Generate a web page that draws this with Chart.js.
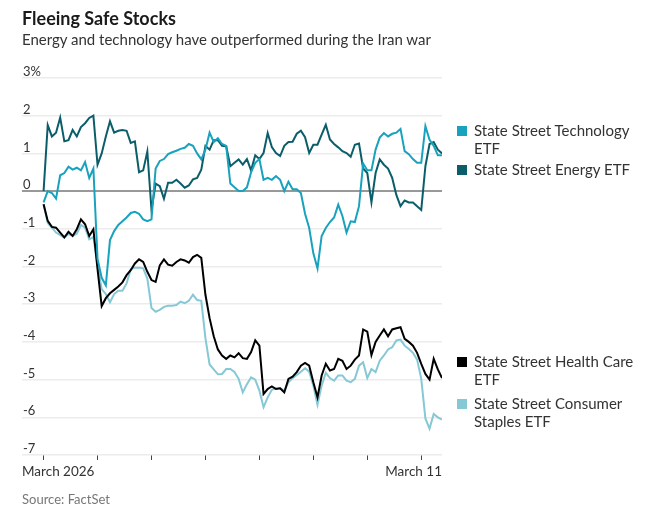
<!DOCTYPE html>
<html>
<head>
<meta charset="utf-8">
<script src="https://cdn.jsdelivr.net/npm/chart.js@4.4.1/dist/chart.umd.min.js"></script>
<style>
  body { margin: 0; background: #fff; }
  #wrap { position: relative; width: 648px; height: 521px; font-family: Lato, sans-serif; color: #222; }
  #chart { position: absolute; left: 0; top: 0; }
  .txt { position: absolute; white-space: nowrap; }
  .title { left: 22px; top: 7px; font-size: 18px; font-weight: 700; color: #1a1a1a; }
  .sub { left: 22px; top: 30px; font-size: 15px; color: #333; }
  .source { left: 22px; top: 491px; font-size: 13px; color: #777; }
  .leg { position: absolute; left: 457px; width: 190px; font-size: 15px; line-height: 17.5px; color: #333; }
  .leg i { position: absolute; left: 0; top: 4px; width: 10px; height: 10px; }
  .leg span { display: block; margin-left: 17px; width: 172px; white-space: normal; }
</style>
</head>
<body>
<div id="wrap">
  <canvas id="chart" width="648" height="521"></canvas>
  <div class="txt title">Fleeing Safe Stocks</div>
  <div class="txt sub">Energy and technology have outperformed during the Iran war</div>
  <div class="txt source">Source: FactSet</div>
</div>
<script>
// half-hour bars, 13 per trading day, starting at the March 2 open
const barsPerDay = 13;
const dayTicks = [0, 1, 2, 3, 4, 5, 6, 7];
const dayTickLabels = ['March 2026', '', '', '', '', '', '', 'March 11'];

const seriesNames = [
    'State Street Technology ETF',
    'State Street Energy ETF',
    'State Street Health Care ETF',
    'State Street Consumer Staples ETF'
];
const seriesColors = ['#18a2bd', '#0b5e69', '#000000', '#86c8d6'];

// % change since the start of March
const techETF = [
    -0.3, 0.0, -0.05, -0.2, 0.42, 0.48, 0.65, 0.57, 0.62, 0.55, 0.77, 0.35, 0.6,
    -1.8, -2.3, -2.5, -1.3, -1.06, -0.9, -0.8, -0.7, -0.58, -0.55, -0.6, -0.75, -0.8,
    -0.75, 0.6, 0.8, 0.85, 0.98, 1.03, 1.07, 1.12, 1.15, 1.25, 1.2, 1.0, 0.84,
    1.1, 1.55, 1.3, 1.4, 1.25, 1.2, 0.2, 0.1, 0.0, 0.0, 0.1, 0.5, 0.75,
    0.85, 0.3, 0.35, 0.3, 0.4, 0.3, 0.0, 0.25, 0.05, 0.05, -0.05, -0.6, -0.98,
    -1.65, -2.05, -1.19, -0.98, -0.82, -0.7, -0.36, -0.66, -1.1, -0.8, -0.82, -0.4, 0.73,
    0.55, 0.55, 1.1, 1.42, 1.54, 1.45, 1.52, 1.55, 1.65, 1.06, 0.98, 0.85, 0.75,
    0.75, 1.72, 1.36, 1.2, 0.95, 0.95
];
const energyETF = [
    0.0, 1.75, 1.45, 1.55, 1.95, 1.32, 1.35, 1.62, 1.45, 1.7, 1.8, 1.94, 2.0,
    0.7, 1.0, 1.45, 1.85, 1.55, 1.6, 1.62, 1.6, 1.28, 1.32, 0.5, 0.55, 1.05,
    -0.5, 0.2, 0.13, -0.2, 0.22, 0.22, 0.3, 0.2, 0.09, 0.15, 0.31, 0.35, 0.57,
    1.2, 1.1, 1.35, 1.35, 1.2, 1.19, 0.66, 0.75, 0.84, 0.7, 0.85, 0.55, 0.95,
    0.85, 1.01, 1.54, 1.17, 1.01, 0.93, 1.2, 1.3, 1.31, 1.52, 1.6, 1.43, 1.01,
    1.23, 1.23, 1.5, 1.76, 1.37, 1.25, 1.16, 1.06, 1.01, 0.91, 1.23, 1.26, 0.6,
    0.48, -0.3, 0.48, 0.84, 0.7, 0.6, 0.35, -0.1, -0.4, -0.25, -0.3, -0.3, -0.4,
    -0.5, 0.66, 1.25, 1.3, 1.1, 1.0
];
const healthCareETF = [
    -0.35, -0.79, -0.95, -0.97, -1.1, -1.23, -1.08, -1.19, -1.01, -0.75, -0.88, -1.19, -1.01,
    -2.07, -3.05, -2.84, -2.71, -2.62, -2.53, -2.42, -2.23, -2.1, -1.92, -1.81, -1.88, -2.14,
    -2.36, -2.41, -1.97, -1.81, -1.95, -1.98, -1.88, -1.81, -1.84, -1.9, -1.75, -1.69, -1.77,
    -2.75, -3.37, -3.85, -4.2, -4.36, -4.45, -4.36, -4.41, -4.3, -4.43, -4.45, -4.27, -3.96,
    -4.1, -5.38, -5.25, -5.18, -5.25, -5.23, -5.34, -4.98, -4.92, -4.8, -4.63, -4.56, -4.63,
    -5.07, -5.47, -4.89, -4.58, -4.76, -4.72, -4.45, -4.5, -4.72, -4.63, -4.47, -4.36, -3.67,
    -3.73, -4.35, -4.0, -3.83, -3.67, -3.85, -3.67, -3.64, -3.61, -3.92, -4.0, -4.1, -4.29,
    -4.58, -4.85, -5.0, -4.45, -4.73, -4.96
];
const staplesETF = [
    -0.35, -0.85, -0.97, -1.1, -1.17, -1.23, -1.14, -1.19, -1.13, -0.9, -0.97, -1.28, -1.22,
    -1.95, -2.6, -2.73, -2.95, -2.73, -2.64, -2.64, -2.45, -2.07, -2.03, -2.03, -2.05, -2.32,
    -3.1, -3.2, -3.15, -3.07, -3.04, -3.04, -3.02, -2.93, -2.97, -2.91, -2.75, -2.89, -2.91,
    -3.9, -4.6, -4.73, -4.86, -4.85, -4.72, -4.72, -4.8, -4.98, -5.34, -5.12, -4.94, -5.0,
    -5.29, -5.73, -5.47, -5.27, -5.23, -5.23, -5.29, -5.07, -4.96, -4.88, -4.79, -4.7, -4.79,
    -5.16, -5.67, -5.16, -4.82, -4.96, -5.03, -4.89, -4.89, -5.03, -5.07, -4.98, -4.63, -4.54,
    -4.96, -4.72, -4.8, -4.5, -4.36, -4.2, -4.14, -3.96, -3.94, -4.1, -4.19, -4.29, -4.47,
    -4.98, -6.03, -6.3, -5.91, -6.0, -6.06
];

const seriesValues = [techETF, energyETF, healthCareETF, staplesETF];
// legend rows sit next to where each line ends (top offset in px)
const legendTops = [122, 161, 353, 395];

const toPoints = (arr) => arr.map((v, i) => ({ x: i / barsPerDay, y: v }));

const wrap = document.getElementById('wrap');
seriesNames.forEach((name, k) => {
    const el = document.createElement('div');
    el.className = 'leg';
    el.style.top = legendTops[k] + 'px';
    el.innerHTML = `<i style="background:${seriesColors[k]}"></i><span>${name}</span>`;
    wrap.appendChild(el);
});

const xLabelPlugin = {
    id: 'xLabels',
    afterDraw(chart) {
        const { ctx, chartArea } = chart;
        ctx.save();
        ctx.font = '13.5px Lato';
        ctx.fillStyle = '#333';
        ctx.textBaseline = 'alphabetic';
        dayTickLabels.forEach((lab, i) => {
            if (!lab) return;
            const px = chart.scales.x.getPixelForValue(dayTicks[i]);
            const w = ctx.measureText(lab).width;
            let tx = px - w / 2;
            if (tx < chartArea.left) tx = chartArea.left;
            if (tx + w > chartArea.right) tx = chartArea.right - w;
            ctx.textAlign = 'left';
            ctx.fillText(lab, tx, 476);
        });
        ctx.restore();
    }
};

new Chart(document.getElementById('chart'), {
    type: 'line',
    data: {
        datasets: seriesNames.map((name, k) => ({
            label: name,
            data: toPoints(seriesValues[k]),
            borderColor: seriesColors[k],
            borderWidth: 2,
            pointRadius: 0,
            tension: 0,
            fill: false
        }))
    },
    options: {
        responsive: false,
        animation: false,
        layout: { padding: { left: 22, right: 206, top: 78, bottom: 58 } },
        plugins: {
            legend: { display: false },
            tooltip: { enabled: false }
        },
        scales: {
            x: {
                type: 'linear',
                min: -0.4,
                max: (techETF.length - 1) / barsPerDay,
                afterBuildTicks: (s) => { s.ticks = dayTicks.map(v => ({ value: v })); },
                afterFit: (s) => { s.height = 8; },
                ticks: { display: false },
                grid: { drawOnChartArea: false, drawTicks: true, tickLength: 5, tickColor: '#444', lineWidth: 1 },
                border: { display: false }
            },
            y: {
                min: -7,
                max: 3,
                afterFit: (s) => { s.width = 0; },
                ticks: {
                    stepSize: 1,
                    mirror: true,
                    padding: 1,
                    labelOffset: -6,
                    color: '#333',
                    font: { family: 'Lato', size: 13 },
                    callback: (v) => (v === 3 ? '3%' : String(v))
                },
                grid: {
                    drawTicks: false,
                    color: (c) => (c.tick && c.tick.value === 0 ? '#999' : '#ececec'),
                    lineWidth: (c) => (c.tick && c.tick.value === 0 ? 2 : 1.5)
                },
                border: { display: false }
            }
        }
    },
    plugins: [xLabelPlugin]
});
</script>
</body>
</html>
